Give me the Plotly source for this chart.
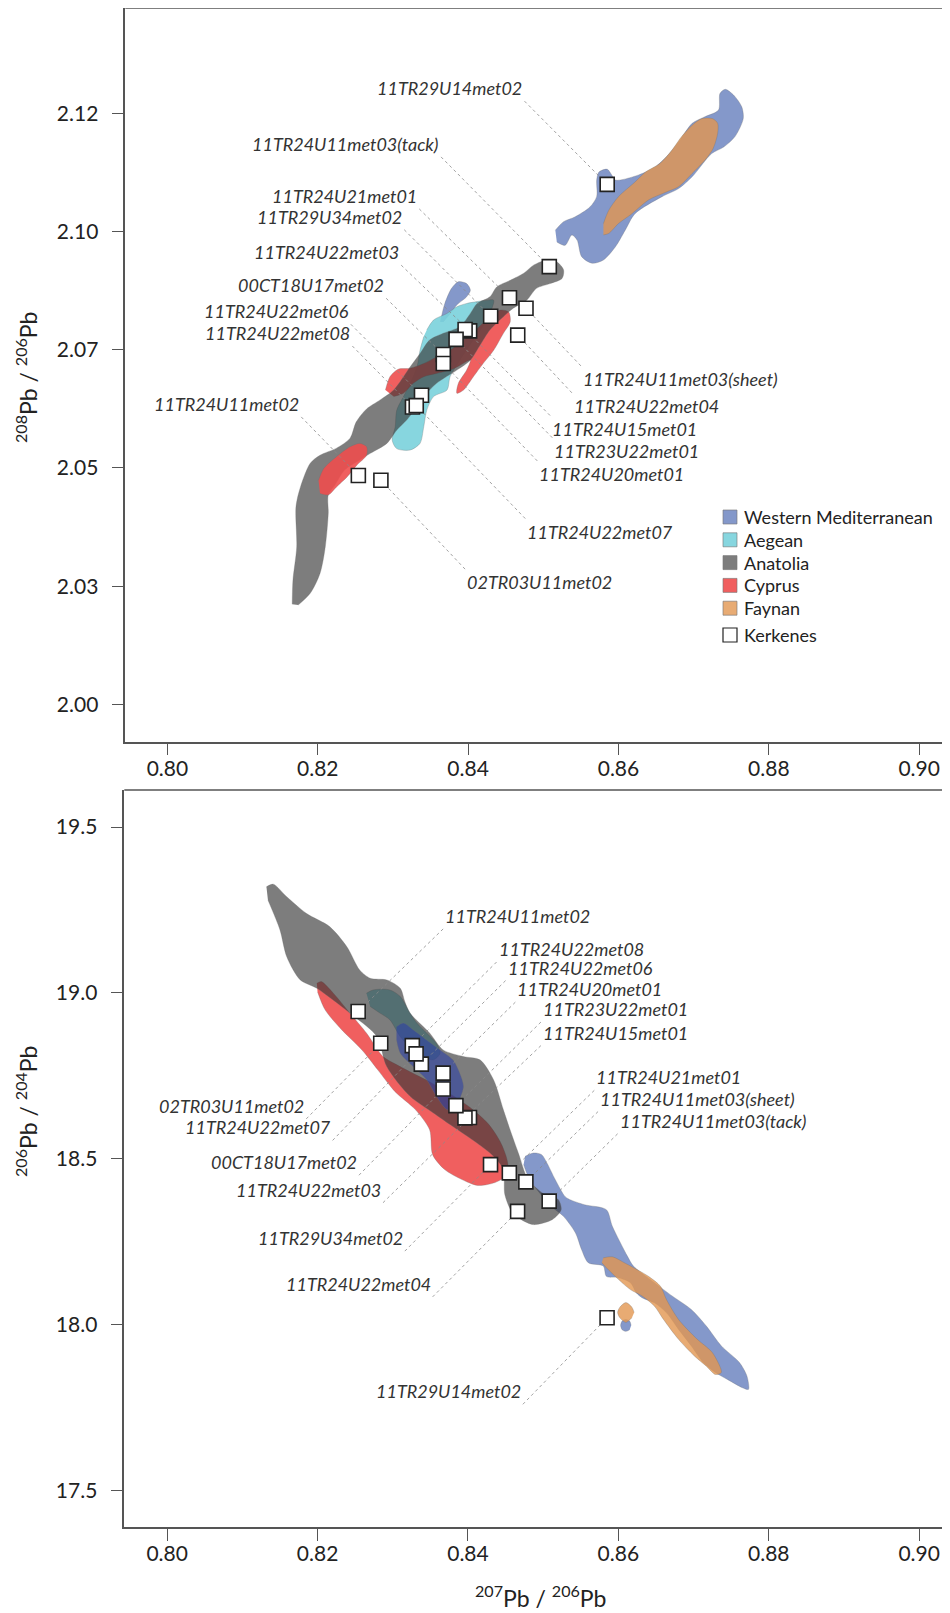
import plotly.graph_objects as go

# Kerkenes metal samples
sample_names = [
    "11TR29U14met02", "11TR24U11met03(tack)", "11TR24U21met01", "11TR29U34met02",
    "11TR24U22met03", "00CT18U17met02", "11TR24U22met06", "11TR24U22met08",
    "11TR24U11met02", "11TR24U11met03(sheet)", "11TR24U22met04", "11TR24U15met01",
    "11TR23U22met01", "11TR24U20met01", "11TR24U22met07", "02TR03U11met02",
]
pb207_206 = [0.8585, 0.8508, 0.8455, 0.8430, 0.8402, 0.8367, 0.8338, 0.8326,
             0.8254, 0.8477, 0.8466, 0.8396, 0.8384, 0.8367, 0.8331, 0.8284]
pb208_206 = [2.1100, 2.0926, 2.0860, 2.0821, 2.0790, 2.0740, 2.0654, 2.0629,
             2.0484, 2.0838, 2.0781, 2.0793, 2.0772, 2.0721, 2.0632, 2.0474]
pb206_204 = [18.020, 18.372, 18.457, 18.482, 18.624, 18.710, 18.785, 18.841,
             18.944, 18.430, 18.341, 18.623, 18.660, 18.758, 18.816, 18.848]

# label anchor points (data units), "L" = text left of anchor, "R" = text right of anchor
top_label_x = [0.8475, 0.8364, 0.8335, 0.8315, 0.8311, 0.8291, 0.8244, 0.8246,
               0.8178, 0.8550, 0.8538, 0.8509, 0.8512, 0.8492, 0.8476, 0.8396]
top_label_y = [2.1276, 2.1158, 2.1048, 2.1004, 2.0929, 2.0859, 2.0804, 2.0758,
               2.0608, 2.0716, 2.0659, 2.0611, 2.0564, 2.0515, 2.0393, 2.0286]
top_label_side = ["L"] * 9 + ["R"] * 7

bot_label_x = [0.8473, 0.8599, 0.8568, 0.8316, 0.8287, 0.8255, 0.8450, 0.8438,
               0.8367, 0.8573, 0.8353, 0.8497, 0.8497, 0.8463, 0.8220, 0.8185]
bot_label_y = [17.759, 18.575, 18.706, 18.221, 18.367, 18.450, 19.037, 19.093,
               19.193, 18.642, 18.083, 18.841, 18.912, 18.972, 18.555, 18.620]
bot_label_side = ["L", "R", "R", "L", "L", "L", "R", "R",
                  "R", "R", "L", "R", "R", "R", "L", "L"]

# ore-field outlines: (207Pb/206Pb, 208Pb/206Pb)
top_wm = [
    [(0.8516, 2.1003), (0.8527, 2.1021), (0.8542, 2.1031), (0.8562, 2.1052), (0.8571, 2.1074),
     (0.8571, 2.1109), (0.8574, 2.1126), (0.8585, 2.1132), (0.8591, 2.1120), (0.8596, 2.1109),
     (0.8627, 2.1120), (0.8649, 2.1137), (0.8666, 2.1162), (0.8682, 2.1194), (0.8698, 2.1229),
     (0.8715, 2.1243), (0.8733, 2.1257), (0.8735, 2.1292), (0.8742, 2.1301), (0.8753, 2.1289),
     (0.8764, 2.1264), (0.8766, 2.1239), (0.8755, 2.1201), (0.8740, 2.1179), (0.8724, 2.1165),
     (0.8698, 2.1116), (0.8680, 2.1091), (0.8658, 2.1074), (0.8622, 2.1038), (0.8609, 2.1003),
     (0.8596, 2.0968), (0.8580, 2.0940), (0.8565, 2.0933), (0.8551, 2.0947), (0.8545, 2.0982),
     (0.8538, 2.0993), (0.8529, 2.0971), (0.8518, 2.0978)],
    [(0.8363, 2.0809), (0.8369, 2.0848), (0.8378, 2.0880), (0.8387, 2.0894), (0.8398, 2.0890),
     (0.8403, 2.0876), (0.8398, 2.0862), (0.8385, 2.0845), (0.8378, 2.0830), (0.8367, 2.0809)],
]
top_faynan = [
    [(0.8580, 2.0993), (0.8587, 2.0996), (0.8600, 2.1017), (0.8618, 2.1038), (0.8640, 2.1067),
     (0.8664, 2.1084), (0.8680, 2.1095), (0.8698, 2.1123), (0.8715, 2.1151), (0.8726, 2.1176),
     (0.8732, 2.1208), (0.8732, 2.1229), (0.8725, 2.1239), (0.8711, 2.1239), (0.8698, 2.1225),
     (0.8684, 2.1201), (0.8671, 2.1172), (0.8655, 2.1144), (0.8636, 2.1126), (0.8622, 2.1105),
     (0.8600, 2.1074), (0.8587, 2.1045), (0.8580, 2.1017)],
]
top_aegean = [
    [(0.8345, 2.0792), (0.8354, 2.0813), (0.8372, 2.0827), (0.8385, 2.0841), (0.8398, 2.0848),
     (0.8412, 2.0852), (0.8425, 2.0855), (0.8434, 2.0855), (0.8425, 2.0813), (0.8407, 2.0771),
     (0.8389, 2.0728), (0.8376, 2.0693), (0.8372, 2.0665), (0.8354, 2.0651), (0.8345, 2.0622),
     (0.8341, 2.0587), (0.8336, 2.0552), (0.8323, 2.0538), (0.8305, 2.0541), (0.8299, 2.0559),
     (0.8303, 2.0587), (0.8305, 2.0622), (0.8314, 2.0651), (0.8323, 2.0679), (0.8332, 2.0714),
     (0.8336, 2.0749), (0.8341, 2.0778)],
]
top_cyprus = [
    [(0.8290, 2.0665), (0.8296, 2.0693), (0.8307, 2.0709), (0.8323, 2.0711), (0.8341, 2.0721),
     (0.8358, 2.0735), (0.8376, 2.0749), (0.8394, 2.0771), (0.8412, 2.0795), (0.8429, 2.0820),
     (0.8443, 2.0834), (0.8454, 2.0830), (0.8456, 2.0809), (0.8447, 2.0785), (0.8434, 2.0749),
     (0.8420, 2.0721), (0.8407, 2.0693), (0.8394, 2.0665), (0.8385, 2.0658), (0.8387, 2.0679),
     (0.8398, 2.0707), (0.8403, 2.0728), (0.8389, 2.0717), (0.8376, 2.0707), (0.8358, 2.0700),
     (0.8341, 2.0693), (0.8327, 2.0679), (0.8314, 2.0658), (0.8301, 2.0651)],
]
top_cyprus_low = [
    [(0.8201, 2.0474), (0.8208, 2.0499), (0.8225, 2.0524), (0.8243, 2.0545), (0.8256, 2.0552),
     (0.8265, 2.0545), (0.8265, 2.0527), (0.8252, 2.0506), (0.8239, 2.0481), (0.8225, 2.0460),
     (0.8214, 2.0443), (0.8203, 2.0446)],
]
top_anatolia = [
    [(0.8166, 2.0212), (0.8167, 2.0263), (0.8172, 2.0333), (0.8171, 2.0418), (0.8177, 2.0460),
     (0.8190, 2.0510), (0.8203, 2.0527), (0.8225, 2.0542), (0.8243, 2.0563), (0.8251, 2.0597),
     (0.8265, 2.0625), (0.8283, 2.0644), (0.8301, 2.0665), (0.8323, 2.0714), (0.8336, 2.0742),
     (0.8349, 2.0771), (0.8367, 2.0785), (0.8389, 2.0799), (0.8403, 2.0827), (0.8412, 2.0848),
     (0.8429, 2.0862), (0.8438, 2.0883), (0.8456, 2.0897), (0.8474, 2.0912), (0.8487, 2.0929),
     (0.8505, 2.0940), (0.8518, 2.0936), (0.8527, 2.0919), (0.8525, 2.0901), (0.8509, 2.0890),
     (0.8491, 2.0880), (0.8478, 2.0855), (0.8460, 2.0838), (0.8447, 2.0820), (0.8429, 2.0792),
     (0.8416, 2.0760), (0.8403, 2.0728), (0.8385, 2.0707), (0.8358, 2.0679), (0.8345, 2.0658),
     (0.8332, 2.0629), (0.8318, 2.0601), (0.8305, 2.0580), (0.8292, 2.0552), (0.8270, 2.0531),
     (0.8256, 2.0517), (0.8236, 2.0496), (0.8223, 2.0464), (0.8214, 2.0443), (0.8214, 2.0404),
     (0.8210, 2.0333), (0.8203, 2.0277), (0.8190, 2.0235), (0.8174, 2.0210)],
]

# (207Pb/206Pb, 206Pb/204Pb)
bot_wm = [
    [(0.8476, 18.507), (0.8487, 18.517), (0.8498, 18.512), (0.8505, 18.487), (0.8516, 18.437),
     (0.8529, 18.386), (0.8535, 18.377), (0.8555, 18.361), (0.8584, 18.346), (0.8592, 18.296),
     (0.8612, 18.206), (0.8620, 18.176), (0.8648, 18.126), (0.8672, 18.085), (0.8697, 18.045),
     (0.8717, 17.995), (0.8737, 17.935), (0.8761, 17.885), (0.8771, 17.844), (0.8773, 17.804),
     (0.8765, 17.809), (0.8745, 17.834), (0.8729, 17.855), (0.8713, 17.885), (0.8697, 17.935),
     (0.8680, 17.985), (0.8664, 18.035), (0.8648, 18.065), (0.8632, 18.080), (0.8624, 18.095),
     (0.8616, 18.126), (0.8600, 18.141), (0.8584, 18.145), (0.8580, 18.176), (0.8560, 18.186),
     (0.8551, 18.226), (0.8543, 18.276), (0.8527, 18.326), (0.8511, 18.356), (0.8482, 18.437),
     (0.8474, 18.482)],
    [(0.8617, 17.997), (0.8615, 18.010), (0.8610, 18.015), (0.8605, 18.010), (0.8603, 17.997),
     (0.8605, 17.984), (0.8610, 17.979), (0.8615, 17.984)],
]
bot_wm_core = [
    [(0.8305, 18.898), (0.8314, 18.909), (0.8327, 18.889), (0.8345, 18.858), (0.8363, 18.828),
     (0.8380, 18.798), (0.8389, 18.758), (0.8394, 18.718), (0.8389, 18.678), (0.8385, 18.648),
     (0.8372, 18.648), (0.8358, 18.688), (0.8345, 18.738), (0.8327, 18.778), (0.8310, 18.818),
     (0.8305, 18.858)],
]
bot_faynan = [
    [(0.8580, 18.201), (0.8592, 18.204), (0.8608, 18.186), (0.8640, 18.145), (0.8656, 18.115),
     (0.8664, 18.075), (0.8680, 18.015), (0.8705, 17.955), (0.8725, 17.915), (0.8737, 17.855),
     (0.8729, 17.849), (0.8717, 17.874), (0.8701, 17.905), (0.8680, 17.955), (0.8660, 18.015),
     (0.8648, 18.055), (0.8632, 18.085), (0.8616, 18.105), (0.8600, 18.136), (0.8584, 18.171),
     (0.8578, 18.186)],
    [(0.8621, 18.036), (0.8618, 18.052), (0.8610, 18.066), (0.8602, 18.052), (0.8599, 18.036),
     (0.8602, 18.020), (0.8610, 18.006), (0.8618, 18.020)],
]
bot_aegean = [
    [(0.8265, 18.999), (0.8274, 19.009), (0.8296, 19.009), (0.8310, 18.989), (0.8323, 18.939),
     (0.8332, 18.909), (0.8345, 18.879), (0.8358, 18.848), (0.8363, 18.818), (0.8354, 18.798),
     (0.8341, 18.808), (0.8323, 18.838), (0.8310, 18.868), (0.8296, 18.919), (0.8283, 18.939),
     (0.8270, 18.959)],
]
bot_cyprus = [
    [(0.8199, 19.029), (0.8205, 19.034), (0.8221, 18.999), (0.8243, 18.939), (0.8265, 18.879),
     (0.8287, 18.808), (0.8303, 18.786), (0.8323, 18.762), (0.8349, 18.732), (0.8376, 18.696),
     (0.8403, 18.654), (0.8427, 18.605), (0.8443, 18.551), (0.8452, 18.497), (0.8453, 18.452),
     (0.8436, 18.428), (0.8413, 18.419), (0.8392, 18.437), (0.8369, 18.467), (0.8353, 18.512),
     (0.8349, 18.587), (0.8330, 18.648), (0.8303, 18.702), (0.8280, 18.768), (0.8259, 18.828),
     (0.8232, 18.889), (0.8210, 18.949), (0.8200, 19.003)],
]
bot_anatolia = [
    [(0.8132, 19.320), (0.8141, 19.328), (0.8159, 19.290), (0.8185, 19.240), (0.8216, 19.200),
     (0.8239, 19.139), (0.8256, 19.069), (0.8270, 19.044), (0.8292, 19.039), (0.8310, 19.014),
     (0.8316, 18.974), (0.8323, 18.939), (0.8349, 18.879), (0.8367, 18.828), (0.8394, 18.808),
     (0.8416, 18.798), (0.8434, 18.738), (0.8447, 18.648), (0.8456, 18.587), (0.8467, 18.517),
     (0.8480, 18.437), (0.8502, 18.392), (0.8520, 18.377), (0.8524, 18.346), (0.8512, 18.316),
     (0.8487, 18.301), (0.8471, 18.316), (0.8459, 18.337), (0.8449, 18.392), (0.8447, 18.467),
     (0.8434, 18.507), (0.8412, 18.547), (0.8380, 18.597), (0.8354, 18.638), (0.8323, 18.688),
     (0.8292, 18.778), (0.8279, 18.868), (0.8243, 18.939), (0.8199, 19.014), (0.8177, 19.039),
     (0.8159, 19.109), (0.8150, 19.190), (0.8134, 19.280)],
]

legend_names = ["Western Mediterranean", "Aegean", "Anatolia", "Cyprus", "Faynan"]
fills = {
    "Western Mediterranean": "rgba(122,143,198,0.92)",
    "Aegean": "rgba(122,210,220,0.9)",
    "Anatolia": "rgba(55,55,55,0.65)",
    "Cyprus": "rgba(238,78,78,0.9)",
    "Faynan": "rgba(226,150,80,0.8)",
}
WM_CORE = "rgba(45,65,165,0.6)"   # WM field seen through the Anatolia field

FONT = "Lato"
PAD = 8                 # the page body margin shifts the figure by 8 px
W, H = 950 - PAD, 1613 - PAD


def px(x):
    return (x - PAD) / W


def py(y):
    return 1 - (y - PAD) / H


def unzip(polys):
    xs, ys = [], []
    for poly in polys:
        xs += [p[0] for p in poly] + [None]
        ys += [p[1] for p in poly] + [None]
    return xs, ys


def region(polys, fill, xa, ya):
    xs, ys = unzip(polys)
    return go.Scatter(
        x=xs, y=ys, fill="toself", fillcolor=fill, mode="lines",
        line=dict(color="rgba(110,110,110,0.5)", width=0.6, shape="spline", smoothing=0.8),
        hoverinfo="skip", showlegend=False, xaxis=xa, yaxis=ya,
    )


fig = go.Figure()

for polys, name in [(top_wm, "Western Mediterranean"), (top_faynan, "Faynan"), (top_aegean, "Aegean"),
                    (top_cyprus, "Cyprus"), (top_anatolia, "Anatolia"), (top_cyprus_low, "Cyprus")]:
    fig.add_trace(region(polys, fills[name], "x", "y"))

for polys, name in [(bot_wm, "Western Mediterranean"), (bot_faynan, "Faynan"), (bot_aegean, "Aegean"),
                    (bot_cyprus, "Cyprus"), (bot_anatolia, "Anatolia")]:
    fig.add_trace(region(polys, fills[name], "x2", "y2"))
fig.add_trace(region(bot_wm_core, WM_CORE, "x2", "y2"))


def leaders(lx, ly, sy):
    xs, ys = [], []
    for i in range(len(sample_names)):
        xs += [lx[i], pb207_206[i], None]
        ys += [ly[i], sy[i], None]
    return xs, ys


for lx, ly, sy, xa, ya in [(top_label_x, top_label_y, pb208_206, "x", "y"),
                           (bot_label_x, bot_label_y, pb206_204, "x2", "y2")]:
    xs, ys = leaders(lx, ly, sy)
    fig.add_trace(go.Scatter(x=xs, y=ys, mode="lines", line=dict(color="#8a8a8a", width=0.8, dash="dot"),
                             hoverinfo="skip", showlegend=False, xaxis=xa, yaxis=ya))

for sy, xa, ya in [(pb208_206, "x", "y"), (pb206_204, "x2", "y2")]:
    fig.add_trace(go.Scatter(
        x=pb207_206, y=sy, mode="markers", text=sample_names, showlegend=False,
        marker=dict(symbol="square", size=14, color="white", line=dict(color="#222", width=1.6)),
        xaxis=xa, yaxis=ya,
    ))

label_font = dict(family=FONT, size=18, color="#333", style="italic")
annotations = []
for i, name in enumerate(sample_names):
    s = top_label_side[i]
    annotations.append(dict(
        x=top_label_x[i], y=top_label_y[i], xref="x", yref="y", text=name, showarrow=False,
        xanchor="right" if s == "L" else "left", yanchor="bottom" if s == "L" else "top",
        font=label_font,
    ))
    s = bot_label_side[i]
    annotations.append(dict(
        x=bot_label_x[i], y=bot_label_y[i], xref="x2", yref="y2", text=name, showarrow=False,
        xanchor="right" if s == "L" else "left", yanchor="bottom",
        font=label_font,
    ))

# axis titles
title_font = dict(family=FONT, size=23, color="#222")
for text, x, y, angle in [("<sup>208</sup>Pb / <sup>206</sup>Pb", 26, 378, -90),
                          ("<sup>206</sup>Pb / <sup>204</sup>Pb", 26, 1112, -90),
                          ("<sup>207</sup>Pb / <sup>206</sup>Pb", 540, 1596, 0)]:
    annotations.append(dict(x=px(x), y=py(y), xref="paper", yref="paper", showarrow=False,
                            xanchor="center", yanchor="middle", text=text, textangle=angle,
                            font=title_font))

# legend, drawn by hand in the top panel
shapes = []
leg_x0, leg_y0, leg_step = 723, 517, 22.8
for i, name in enumerate(legend_names + ["Kerkenes"]):
    cy = leg_y0 + i * leg_step + (4 if name == "Kerkenes" else 0)
    fill = fills.get(name, "white")
    edge = "#222" if name == "Kerkenes" else "rgba(120,120,120,0.8)"
    shapes.append(dict(type="rect", xref="paper", yref="paper",
                       x0=px(leg_x0), x1=px(leg_x0 + 14), y0=py(cy - 7), y1=py(cy + 7),
                       fillcolor=fill, line=dict(color=edge, width=1.2 if name == "Kerkenes" else 0.8)))
    annotations.append(dict(x=px(leg_x0 + 19), y=py(cy), xref="paper", yref="paper",
                            text=name, showarrow=False, xanchor="left", yanchor="middle",
                            font=dict(family=FONT, size=18, color="#222")))

for xr, yr in [("x domain", "y domain"), ("x2 domain", "y2 domain")]:
    shapes.append(dict(type="line", xref=xr, yref=yr, x0=0, x1=1, y0=1, y1=1,
                       line=dict(color="#555", width=1.5)))

axis_common = dict(
    showline=True, linecolor="#555", linewidth=1.5, ticks="outside", ticklen=12,
    tickwidth=1.2, tickcolor="#555", showgrid=False, zeroline=False,
    tickfont=dict(family=FONT, size=21, color="#222"),
)
xticks = [0.80, 0.82, 0.84, 0.86, 0.88, 0.90]
xtext = ["0.80", "0.82", "0.84", "0.86", "0.88", "0.90"]
top_yticks = [2.000, 2.025, 2.050, 2.075, 2.100, 2.125]
top_ytext = ["2.00", "2.03", "2.05", "2.07", "2.10", "2.12"]
bot_yticks = [17.5, 18.0, 18.5, 19.0, 19.5]
bot_ytext = ["17.5", "18.0", "18.5", "19.0", "19.5"]

fig.update_layout(
    width=W, height=H, margin=dict(l=0, r=0, t=0, b=0),
    paper_bgcolor="white", plot_bgcolor="white", showlegend=False,
    xaxis=dict(axis_common, domain=[px(125.3), 1], range=[0.7944, 0.9041], anchor="y",
               tickvals=xticks, ticktext=xtext, ticklabelstandoff=-5),
    yaxis=dict(axis_common, domain=[py(741.7), 1], range=[1.9921, 2.1473], anchor="x",
               tickvals=top_yticks, ticktext=top_ytext, ticklabelstandoff=9),
    xaxis2=dict(axis_common, domain=[px(124.3), 1], range=[0.7943, 0.9041], anchor="y2",
                tickvals=xticks, ticktext=xtext, ticklabelstandoff=-5),
    yaxis2=dict(axis_common, domain=[py(1527.3), py(790)], range=[17.388, 19.612], anchor="x2",
                tickvals=bot_yticks, ticktext=bot_ytext, ticklabelstandoff=9),
    annotations=annotations, shapes=shapes,
)

fig.write_html("out.html")
